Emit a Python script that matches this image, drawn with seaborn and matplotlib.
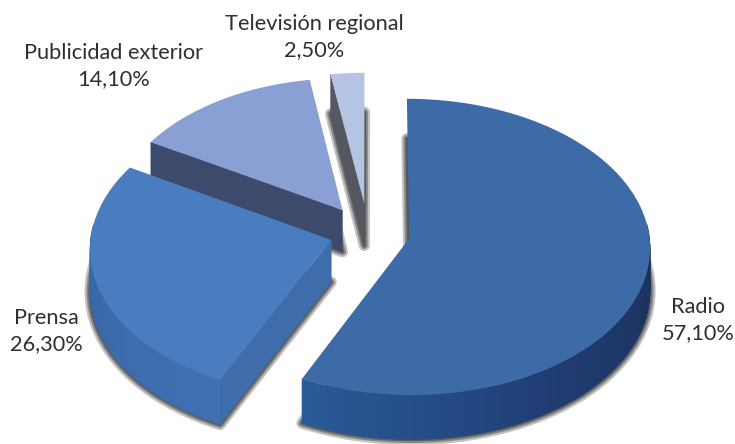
import numpy as np
import matplotlib
matplotlib.use("Agg")
import matplotlib.pyplot as plt
from matplotlib.patches import Wedge
from matplotlib.transforms import Transform
import seaborn as sns

# Media share data
categories = ["Radio", "Prensa", "Publicidad exterior", "Televisión regional"]
shares = [57.1, 26.3, 14.1, 2.5]
explode = [0.175, 0.16, 0.19, 0.20]
radii = [1.0, 1.0, 0.96, 0.96]
top_colors = ["#3d6ba8", "#4a7cc0", "#8a9fd4", "#b6c4e4"]
side_shades = [["#2a5a98", "#1f3c72", "#1b2f58"],
               ["#4070b2", "#3c6cae", "#3566a8"],
               ["#3c4b6e", "#3c4b6e"],
               ["#4a4f5e", "#4a4f5e"]]
cut_colors = ["#2f5f9f", "#3f6dab", "#3c4a6c", "#555861"]
label_xy = [(698, 320), (46, 331), (114, 66), (314, 37)]

# Projection of the pie plane onto the canvas (pixel coordinates)
CX, CY = 368.0, 233.0
A, B, P = 240.0, 147.0, 0.055
DEPTH = 42.0


def project(u, v, drop=0.0):
    s = 1.0 / (1.0 + P * np.asarray(v))
    return CX + A * np.asarray(u) * s, CY - B * np.asarray(v) * s + drop * s


class PlaneToCanvas(Transform):
    input_dims = output_dims = 2
    has_inverse = False

    def __init__(self, drop=0.0):
        super().__init__()
        self.drop = drop

    def transform_non_affine(self, values):
        values = np.asarray(values)
        x, y = project(values[:, 0], values[:, 1], self.drop)
        return np.column_stack([x, y])


sns.set_theme(style="white")
plt.rcParams["font.family"] = ["Lato", "DejaVu Sans"]

fig = plt.figure(figsize=(7.35, 4.44), dpi=100)
ax = fig.add_axes([0, 0, 1, 1])

# Slice boundaries, clockwise from twelve o'clock
ends = np.cumsum(shares) / np.sum(shares) * 360.0
starts = np.concatenate([[0.0], ends[:-1]])
mids = (starts + ends) / 2.0
offset_u = [e * np.sin(np.radians(m)) for e, m in zip(explode, mids)]
offset_v = [e * np.cos(np.radians(m)) for e, m in zip(explode, mids)]

wedges, _ = ax.pie(shares, colors=top_colors, explode=explode, startangle=90,
                   counterclock=False, radius=1.0, center=(0, 0),
                   wedgeprops={"linewidth": 0})
ax.set_aspect("auto")
ax.set_xlim(0, 735)
ax.set_ylim(444, 0)
ax.axis("off")

top_transform = PlaneToCanvas(0.0) + ax.transData
bottom_transform = PlaneToCanvas(DEPTH) + ax.transData

# Far slices first so that nearer ones paint over them
for i in [3, 2, 1, 0]:
    t1, t2 = np.radians(starts[i]), np.radians(ends[i])
    ou, ov, r = offset_u[i], offset_v[i], radii[i]

    # Soft grey shadow round the foot of the slice
    for lw, alpha in [(8, 0.35), (5, 0.5), (2.5, 0.7)]:
        shadow = Wedge((ou, ov), r, 90 - ends[i], 90 - starts[i],
                       facecolor="#4e4e4e", edgecolor="#4e4e4e", lw=lw,
                       alpha=alpha, joinstyle="round", zorder=i * -3 + 10)
        ax.add_patch(shadow)
        shadow.set_transform(bottom_transform)

    # Flat cut faces that look towards the viewer
    for t, visible in [(t1, np.sin(t1) < 0), (t2, np.sin(t2) > 0)]:
        if visible:
            u = np.array([ou, ou + r * np.sin(t)])
            v = np.array([ov, ov + r * np.cos(t)])
            xt, yt = project(u, v)
            xb, yb = project(u, v, DEPTH)
            ax.fill(np.r_[xt, xb[::-1]], np.r_[yt, yb[::-1]],
                    color=cut_colors[i], lw=0.3, zorder=i * -3 + 11)

    # Curved outer wall, shaded along its length
    lo, hi = max(t1, np.radians(84)), min(t2, np.radians(276))
    if hi > lo:
        n = 60
        shades = sns.blend_palette(side_shades[i], n)
        th = np.linspace(lo, hi, n + 1)
        if i == 0:
            th = th[::-1]
        for k in range(n):
            tt = th[k:k + 2]
            u, v = ou + r * np.sin(tt), ov + r * np.cos(tt)
            xt, yt = project(u, v)
            xb, yb = project(u, v, DEPTH)
            ax.fill(np.r_[xt, xb[::-1]], np.r_[yt, yb[::-1]],
                    color=shades[k], lw=0.4, zorder=i * -3 + 11)

    wedges[i].set_radius(r)
    wedges[i].set_transform(top_transform)
    wedges[i].set_zorder(i * -3 + 12)

# Category and share labels
for name, share, (lx, ly) in zip(categories, shares, label_xy):
    text = f"{name}\n{share:.2f}%".replace(".", ",")
    ax.text(lx, ly, text, ha="center", va="center", fontsize=15.7,
            color="#2f2f2f", linespacing=1.36, zorder=20)

fig.savefig("out.png", dpi=100)
